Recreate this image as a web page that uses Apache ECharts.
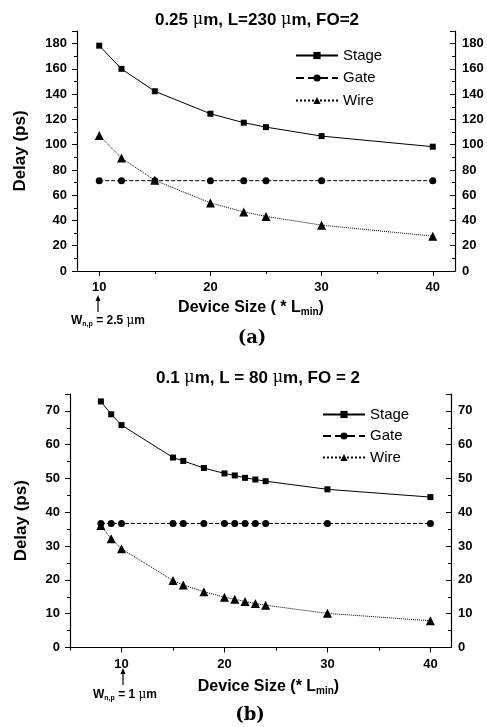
<!DOCTYPE html>
<html>
<head>
<meta charset="utf-8">
<script src="https://cdn.jsdelivr.net/npm/echarts@6/dist/echarts.min.js"></script>
<style>
  html, body { margin: 0; padding: 0; background: #fff; }
  #chart { width: 487px; height: 727px; }
</style>
</head>
<body>
<div id="chart"></div>
<script>
// (a) 0.25 um, L=230 um
const sizeA = [10, 12, 15, 20, 23, 25, 30, 40];
const stageA = [178.4, 160, 142.3, 124.5, 117.4, 113.9, 106.8, 98.4];
const gateA = [71.5, 71.5, 71.5, 71.5, 71.5, 71.5, 71.5, 71.5];
const wireA = [107.3, 89.4, 71.8, 53.9, 46.8, 43.2, 36.3, 27.6];

// (b) 0.1 um, L=80 um
const sizeB = [8, 9, 10, 15, 16, 18, 20, 21, 22, 23, 24, 30, 40];
const stageB = [72.8, 69.0, 65.8, 56.2, 55.2, 53.1, 51.5, 50.9, 50.2, 49.7, 49.2, 46.8, 44.5];
const gateB = [36.7, 36.7, 36.7, 36.7, 36.7, 36.7, 36.7, 36.7, 36.7, 36.7, 36.7, 36.7, 36.7];
const wireB = [36.1, 32.2, 29.2, 19.8, 18.5, 16.5, 14.9, 14.3, 13.6, 13.0, 12.5, 10.1, 7.9];

const majorTicksA = [10, 20, 30, 40];
const minorTicksA = [15, 25, 35];
const majorTicksB = [10, 20, 30, 40];
const minorTicksB = [5, 15, 25, 35];

const FONT = 'Liberation Sans, Arial, sans-serif';
const black = '#000';

function pairs(xs, ys) {
  return xs.map((x, i) => [x, ys[i]]);
}

function xAxes(grid, min, major, minor, name, nameGap, namePad) {
  return [
    {
      gridIndex: grid, type: 'value', min: min, max: 42, position: 'bottom',
      name: name, nameLocation: 'middle', nameGap: nameGap,
      nameTextStyle: {
        color: black, fontFamily: FONT, fontWeight: 'bold', fontSize: 16, padding: namePad,
        rich: { sub: { fontFamily: FONT, fontWeight: 'bold', fontSize: 10, padding: [9, 0, 0, 0] } }
      },
      axisLine: { onZero: false, lineStyle: { color: black, width: 1.2 } },
      axisTick: { customValues: major, length: 5, lineStyle: { color: black } },
      axisLabel: { customValues: major, color: black, fontFamily: FONT, fontWeight: 'bold', fontSize: 13, margin: 10 },
      splitLine: { show: false }
    },
    {
      gridIndex: grid, type: 'value', min: min, max: 42, position: 'bottom',
      axisLine: { show: false },
      axisTick: { customValues: minor, length: 3, lineStyle: { color: black } },
      axisLabel: { show: false },
      splitLine: { show: false }
    }
  ];
}

function yAxes(grid, max, interval, nameGap) {
  const common = {
    gridIndex: grid, type: 'value', min: 0, max: max, interval: interval,
    axisLine: { show: true, lineStyle: { color: black, width: 1.2 } },
    splitLine: { show: false }
  };
  return [
    Object.assign({}, common, {
      position: 'left',
      name: 'Delay (ps)', nameLocation: 'middle', nameGap: nameGap,
      nameTextStyle: { color: black, fontFamily: FONT, fontWeight: 'bold', fontSize: 17 },
      axisTick: { show: true, length: 5, lineStyle: { color: black } },
      minorTick: { show: true, splitNumber: 2, length: 3, lineStyle: { color: black } },
      axisLabel: { color: black, fontFamily: FONT, fontWeight: 'bold', fontSize: 13, margin: 10, showMaxLabel: false }
    }),
    Object.assign({}, common, {
      position: 'right',
      axisTick: { show: true, inside: true, length: 5, lineStyle: { color: black } },
      minorTick: { show: true, splitNumber: 2, length: 3, lineStyle: { color: black } },
      axisLabel: { color: black, fontFamily: FONT, fontWeight: 'bold', fontSize: 13, margin: 7, showMaxLabel: false }
    })
  ];
}

function lineSeries(name, data, xi, yi, symbol, size, type) {
  return {
    name: name, type: 'line', xAxisIndex: xi, yAxisIndex: yi,
    data: data, symbol: symbol, symbolSize: size, showAllSymbol: true,
    itemStyle: { color: black },
    lineStyle: { color: black, width: 1, type: type },
    animation: false
  };
}

function legend(left, top, gap) {
  return {
    data: ['Stage', 'Gate', 'Wire'], orient: 'vertical', left: left, top: top,
    itemWidth: 42, itemHeight: 9, itemGap: gap, selectedMode: false,
    textStyle: { color: black, fontFamily: FONT, fontSize: 15 }
  };
}

function arrow(x, y1, y2) {
  return [
    { type: 'line', shape: { x1: x, y1: y1, x2: x, y2: y2 + 4 }, style: { stroke: black, lineWidth: 1.2 } },
    { type: 'polygon', shape: { points: [[x, y2], [x - 2.5, y2 + 6], [x + 2.5, y2 + 6]] }, style: { fill: black } }
  ];
}

function text(x, y, str, size, rich, family) {
  return {
    type: 'text', x: x, y: y,
    style: {
      text: str, fill: black, font: 'bold ' + size + 'px ' + (family || FONT),
      align: 'center', verticalAlign: 'middle', rich: rich || {}
    }
  };
}

const muRich = { mu: { fontFamily: 'DejaVu Serif, serif', fontWeight: 'normal', fontSize: 16, fill: black } };
const wRich = {
  sub: { fontFamily: FONT, fontWeight: 'bold', fontSize: 7, padding: [6, 0, 0, 0] },
  mu: { fontFamily: 'DejaVu Serif, serif', fontWeight: 'normal', fontSize: 12 }
};

const chart = echarts.init(document.getElementById('chart'));
chart.setOption({
  backgroundColor: '#fff',
  animation: false,
  grid: [
    { left: 77, right: 32, top: 31, bottom: 456 },
    { left: 70, right: 36, top: 394, bottom: 79.5 }
  ],
  xAxis: xAxes(0, 8, majorTicksA, minorTicksA, 'Device Size ( * L{sub|min})', 27, [0, 30, 0, 0])
    .concat(xAxes(1, 5, majorTicksB, minorTicksB, 'Device Size (* L{sub|min})', 30, [0, 0, 0, 16])),
  yAxis: yAxes(0, 190, 20, 48).concat(yAxes(1, 75, 10, 40)),
  legend: [legend(290, 43, 7.5), legend(317, 402, 6.5)],
  series: [
    lineSeries('Stage', pairs(sizeA, stageA), 0, 0, 'rect', 6, 'solid'),
    lineSeries('Gate', pairs(sizeA, gateA), 0, 0, 'circle', 7, 'dashed'),
    lineSeries('Wire', pairs(sizeA, wireA), 0, 0, 'triangle', 9, 'dotted'),
    lineSeries('Stage', pairs(sizeB, stageB), 2, 2, 'rect', 6, 'solid'),
    lineSeries('Gate', pairs(sizeB, gateB), 2, 2, 'circle', 7, 'dashed'),
    lineSeries('Wire', pairs(sizeB, wireB), 2, 2, 'triangle', 9, 'dotted')
  ],
  graphic: [
    text(257, 20, '0.25 {mu|\u03bc}m, L=230 {mu|\u03bc}m, FO=2', 17, muRich),
    text(258, 378, '0.1 {mu|\u03bc}m, L = 80 {mu|\u03bc}m, FO = 2', 17, muRich),
    text(108, 321, 'W{sub|n,p} = 2.5 {mu|\u03bc}m', 12, wRich),
    text(125, 695, 'W{sub|n,p} = 1 {mu|\u03bc}m', 12, wRich),
    text(252, 338, '(a)', 18, null, 'DejaVu Serif, serif'),
    text(250, 715, '(b)', 18, null, 'DejaVu Serif, serif')
  ].concat(arrow(98, 312, 295), arrow(123, 685, 668))
});
</script>
</body>
</html>
